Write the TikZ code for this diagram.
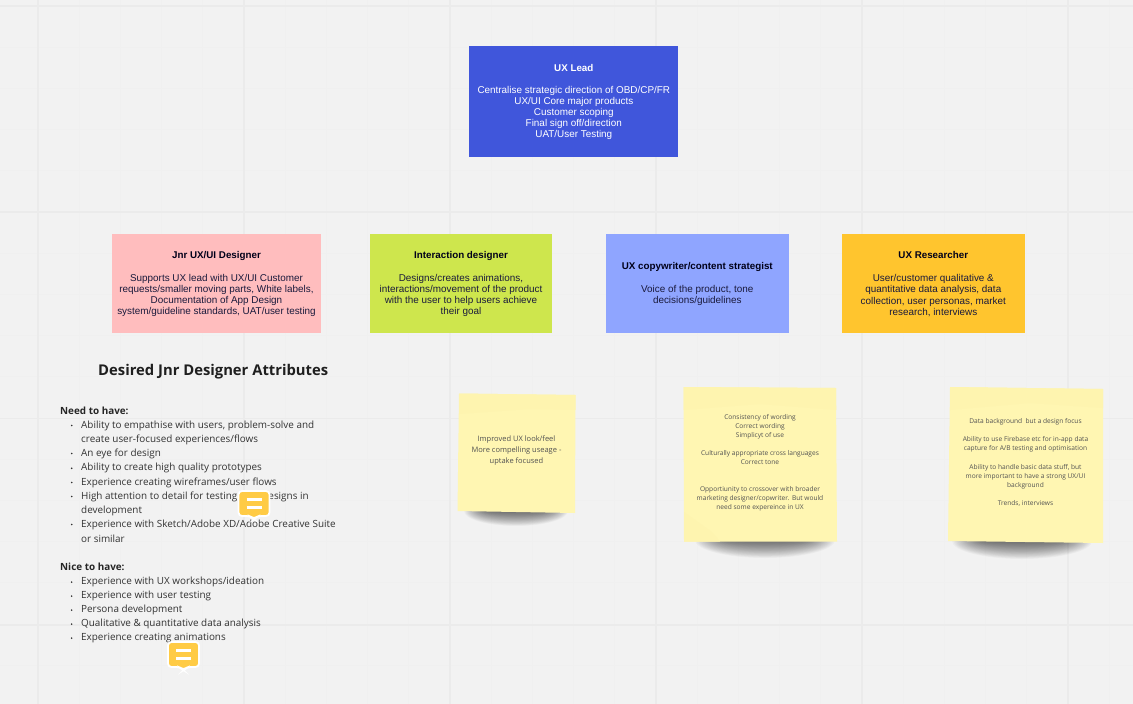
\documentclass[tikz,border=0pt]{standalone}
\usepackage{fontspec}
\setmainfont{Liberation Sans}
\newfontfamily\opensans{Open Sans}
\definecolor{bgc}{HTML}{F2F2F2}
\definecolor{gridmaj}{HTML}{EBEBEB}
\definecolor{gridmin}{HTML}{F0F0F0}
\definecolor{leadc}{HTML}{4056DB}
\definecolor{pinkc}{HTML}{FFBDBE}
\definecolor{greenc}{HTML}{CEE64D}
\definecolor{bluec}{HTML}{8FA5FF}
\definecolor{orangec}{HTML}{FFC52E}
\definecolor{stickyc}{HTML}{FFF6B2}
\definecolor{stickytop}{HTML}{FEF4AF}
\definecolor{inkc}{HTML}{1A1A3C}
\definecolor{attrc}{HTML}{333333}
\definecolor{iconc}{HTML}{FFCB45}
\tikzset{
  x=1pt,y=-1pt,
  rolebox/.style={inner sep=0pt,align=center,text=inkc,font=\fontsize{9.9}{11.1}\selectfont},
  stickytext/.style={inner sep=0pt,align=center,text=black!68,font=\opensans\fontsize{6.6}{9}\selectfont},
  attrline/.style={inner sep=0pt,anchor=west,text=attrc,font=\opensans\fontsize{9.9}{12}\selectfont},
  attrhead/.style={inner sep=0pt,anchor=west,text=black!85,font=\opensans\bfseries\fontsize{9.9}{12}\selectfont},
  attrdot/.style={circle,fill=attrc,inner sep=0pt,minimum size=1.8pt},
  iconbody/.style={fill=iconc,draw=white,line width=1.8pt,rounded corners=3.5pt},
  iconbar/.style={draw=white,line width=2.1pt},
}
\newcommand{\softshadow}[4]{% cx, y, rx, ry
  \foreach \k in {0,...,23}{
    \fill[black,opacity=.026] (#1,#2) ellipse [x radius={#3*(1-\k*.02)},y radius={#4*(1-\k*.04)}];
  }
}
\newcommand{\rolehead}[1]{\textcolor{black!90!blue}{\textbf{\fontsize{9.8}{11.1}\selectfont #1}}}
\newcommand{\attr}[3]{\node[attrline] (#1) at (81,#2) {#3};}
\newcommand{\attrb}[3]{\node[attrdot] (#1d) at (71.7,#2) {};\node[attrline] (#1) at (81,#2) {#3};}
\newcommand{\cicon}[3]{% name, left x, top y
  \begin{scope}[shift={(#2,#3)}]
    \path[iconbody] (0,0) -- (31,0) -- (31,25) -- (19,25) -- (15.5,28.5) -- (12,25) -- (0,25) -- cycle;
    \draw[iconbar] (8,8.5) -- (23,8.5);
    \draw[iconbar] (8,16.5) -- (23,16.5);
    \coordinate (#1) at (15.5,12);
  \end{scope}
}
\begin{document}
\begin{tikzpicture}
\useasboundingbox (0,0) rectangle (1133,704);
\fill[bgc] (0,0) rectangle (1133,704);
% grid
\foreach \i in {0,...,28}{
  \draw[gridmin,line width=.8pt] ({38+41.2*\i},0) -- ++(0,704);
}
\foreach \j in {0,...,17}{
  \draw[gridmin,line width=.8pt] (0,{6+41.2*\j}) -- ++(1133,0);
}
\foreach \xx in {38,244,450,656,862,1068}{
  \draw[gridmaj,line width=1.3pt] (\xx,0) -- (\xx,704);
}
\foreach \yy in {6,212,418.5,625}{
  \draw[gridmaj,line width=1.3pt] (0,\yy) -- (1133,\yy);
}
% role boxes
\fill[leadc] (469,46) rectangle (678,157);
\node[rolebox,text=white] (lead) at (573.8,102.1) {\textbf{\fontsize{9.8}{11.1}\selectfont UX Lead}\\~\\Centralise strategic direction of OBD/CP/FR\\UX/UI Core major products\\Customer scoping\\Final sign off/direction\\UAT/User Testing};
\fill[pinkc] (112,234) rectangle (321,333);
\node[rolebox] (jnr) at (216.5,284.1) {\rolehead{Jnr UX/UI Designer}\\~\\[0.7pt]Supports UX lead with UX/UI Customer\\requests/smaller moving parts, White labels,\\Documentation of App Design\\system/guideline standards, UAT/user testing};
\fill[greenc] (370,234) rectangle (552,333);
\node[rolebox] (inter) at (461,284.1) {\rolehead{Interaction designer}\\~\\[0.7pt]Designs/creates animations,\\interactions/movement of the product\\with the user to help users achieve\\their goal};
\fill[bluec] (606,234) rectangle (789,333);
\node[rolebox] (copy) at (697.3,284.1) {\rolehead{UX copywriter/content strategist}\\~\\[0.7pt]Voice of the product, tone\\decisions/guidelines};
\fill[orangec] (842,234) rectangle (1025,333);
\node[rolebox] (res) at (933.3,284.1) {\rolehead{UX Researcher}\\~\\[0.7pt]User/customer qualitative \&\\quantitative data analysis, data\\collection, user personas, market\\research, interviews};
% title and attributes
\node[inner sep=0pt,anchor=west,text=black!88,font=\opensans\bfseries\fontsize{14.8}{17}\selectfont] (title) at (98,371.8) {Desired Jnr Designer Attributes};
\node[attrhead] (need) at (60,411.2) {Need to have:};
\attrb{a1}{425.5}{Ability to empathise with users, problem-solve and}
\attr{a1b}{439.5}{create user-focused experiences/flows}
\attrb{a2}{453.5}{An eye for design}
\attrb{a3}{468.3}{Ability to create high quality prototypes}
\attrb{a4}{482.5}{Experience creating wireframes/user flows}
\attrb{a5}{496.5}{High attention to detail for testing final designs in}
\attr{a5b}{510.5}{development}
\attrb{a6}{524.5}{Experience with Sketch/Adobe XD/Adobe Creative Suite}
\attr{a6b}{538.5}{or similar}
\node[attrhead] (nice) at (60,567) {Nice to have:};
\attrb{b1}{582.1}{Experience with UX workshops/ideation}
\attrb{b2}{596.1}{Experience with user testing}
\attrb{b3}{610.1}{Persona development}
\attrb{b4}{624.1}{Qualitative \& quantitative data analysis}
\attrb{b5}{638.1}{Experience creating animations}
% sticky notes
\softshadow{516}{511}{52}{15}
\softshadow{765}{540}{70}{18}
\softshadow{1022}{541}{70}{18}
\fill[stickyc] (459,393.5) -- (575.5,395) -- (575,513) -- (457.5,511) -- cycle;
\fill[stickytop] (459,393.5) -- (575.5,395) -- (575.5,410) -- (530,409) -- (459,414) -- cycle;
\node[stickytext,font=\opensans\fontsize{7.5}{10.8}\selectfont] (s1) at (516.5,450.7) {Improved UX look/feel\\More compelling useage -\\uptake focused};
\fill[stickyc] (683.5,387) -- (836,388) -- (837,541.5) -- (684,541.5) -- cycle;
\fill[stickytop] (683.5,387) -- (836,388) -- (836.3,410) -- (760,404) -- (683.5,410) -- cycle;
\fill[stickytop] (684,512) -- (712,532) -- (720,541.5) -- (684,541.5) -- cycle;
\node[stickytext] (s2) at (760,462.3) {Consistency of wording\\Correct wording\\Simplicyt of use\\~\\Culturally appropriate cross languages\\Correct tone\\~\\~\\Opportiunity to crossover with broader\\marketing designer/copwriter. But would\\need some expereince in UX};
\fill[stickyc] (950,387) -- (1103,389) -- (1103,543) -- (948,541) -- cycle;
\fill[stickytop] (950,387) -- (1103,389) -- (1103,408) -- (1030,403) -- (950,410) -- cycle;
\node[stickytext] (s3) at (1025.5,462.6) {Data background\ \ but a design focus\\~\\Ability to use Firebase etc for in-app data\\capture for A/B testing and optimisation\\~\\[1pt]Ability to handle basic data stuff, but\\more important to have a strong UX/UI\\background\\~\\Trends, interviews};
% comment icons
\cicon{c1}{238.5}{491}
\cicon{c2}{168}{642}
\end{tikzpicture}
\end{document}
